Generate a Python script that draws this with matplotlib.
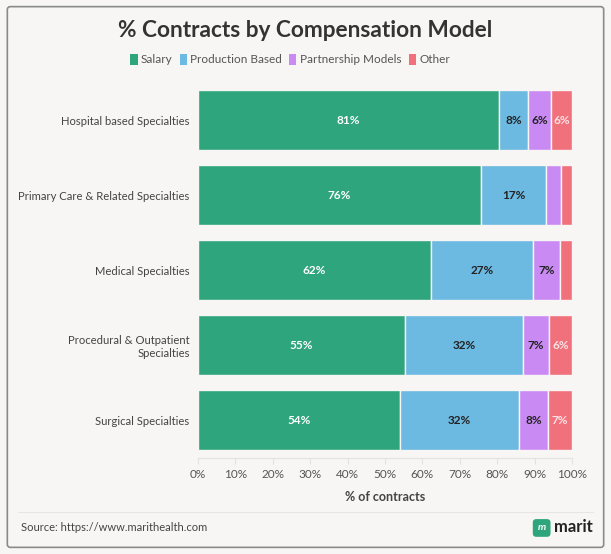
import matplotlib.pyplot as plt
from matplotlib.patches import FancyBboxPatch, Patch
from matplotlib.lines import Line2D
import numpy as np

plt.rcParams['font.family'] = ['Lato', 'DejaVu Sans']

# ============ DATA ============
categories = ["Hospital based Specialties", "Primary Care & Related Specialties",
              "Medical Specialties", "Procedural & Outpatient\nSpecialties",
              "Surgical Specialties"]
salary = [80.6, 75.7, 62.4, 55.3, 53.9]
production = [7.6, 17.4, 27.3, 31.7, 32.0]
partnership = [6.3, 4.1, 7.0, 6.9, 7.6]
other = [5.6, 2.8, 3.3, 6.1, 6.6]
series_names = ["Salary", "Production Based", "Partnership Models", "Other"]
colors = ["#2ea57c", "#6cb9e1", "#c98bf3", "#f0707b"]
label_colors = ["white", "#222222", "#222222", "#fde4e6"]

BG = "#f7f6f4"

fig = plt.figure(figsize=(6.11, 5.54), dpi=100)
fig.patch.set_facecolor(BG)

# outer card
card = FancyBboxPatch((0.012, 0.012), 0.976, 0.976, boxstyle="round,pad=0,rounding_size=0.005",
                      transform=fig.transFigure, facecolor="none", edgecolor="#8a8a8a",
                      linewidth=1.2, zorder=5)
fig.patches.append(card)

ax = fig.add_axes([0.324, 0.174, 0.612, 0.677])
ax.set_facecolor(BG)

y = np.arange(len(categories))
data = [salary, production, partnership, other]
left = np.zeros(len(categories))
for vals, col, name, lc in zip(data, colors, series_names, label_colors):
    vals = np.array(vals)
    ax.barh(y, vals, left=left, height=0.8, color=col, edgecolor=BG,
            linewidth=1.0, label=name)
    for yi, l, v in zip(y, left, vals):
        if v >= 5:
            ax.text(l + v / 2, yi, f"{int(v + 0.5)}%", ha="center", va="center",
                    fontsize=8.5, fontweight="bold", color=lc)
    left += vals

ax.set_ylim(len(categories) - 0.5, -0.5)
ax.set_xlim(0, 100)
ax.set_yticks(y)
ax.set_yticklabels(categories, fontsize=8.1, color="#444444")
ax.set_xticks(np.arange(0, 101, 10))
ax.set_xticklabels([f"{v}%" for v in range(0, 101, 10)], fontsize=8.5, color="#555555")
ax.tick_params(axis="y", length=0, pad=6)
ax.tick_params(axis="x", length=4, color="#e2e2e2", pad=4)
for s in ["top", "right", "left"]:
    ax.spines[s].set_visible(False)
ax.spines["bottom"].set_color("#e2e2e2")
ax.set_xlabel("% of contracts", fontsize=9, fontweight="bold", color="#444444", labelpad=8)

fig.text(0.5, 0.945, "% Contracts by Compensation Model", ha="center", va="center",
         fontsize=16.3, fontweight="bold", color="#333333")

handles = [Patch(facecolor=c, edgecolor="none") for c in colors]
fig.legend(handles, series_names, loc="center", bbox_to_anchor=(0.475, 0.892), ncol=4,
           frameon=False, fontsize=8.5, handlelength=0.6, handleheight=1.0,
           handletextpad=0.3, columnspacing=0.6, labelcolor="#555555")

# footer
fig.add_artist(Line2D([0.03, 0.97], [0.076, 0.076], transform=fig.transFigure,
                      color="#e6e6e6", linewidth=0.8))
fig.text(0.034, 0.047, "Source: https://www.marithealth.com", ha="left", va="center",
         fontsize=8, color="#444444")
logo = FancyBboxPatch((0.872, 0.031), 0.029, 0.032, boxstyle="round,pad=0,rounding_size=0.006",
                      transform=fig.transFigure, facecolor="#2ea57c", edgecolor="none")
fig.patches.append(logo)
fig.text(0.8865, 0.047, "m", ha="center", va="center", fontsize=7.5, fontweight="bold",
         color="white", style="italic")
fig.text(0.907, 0.048, "marit", ha="left", va="center", fontsize=12, fontweight="bold",
         color="#222222")

fig.savefig("out.png", dpi=100, facecolor=BG)
